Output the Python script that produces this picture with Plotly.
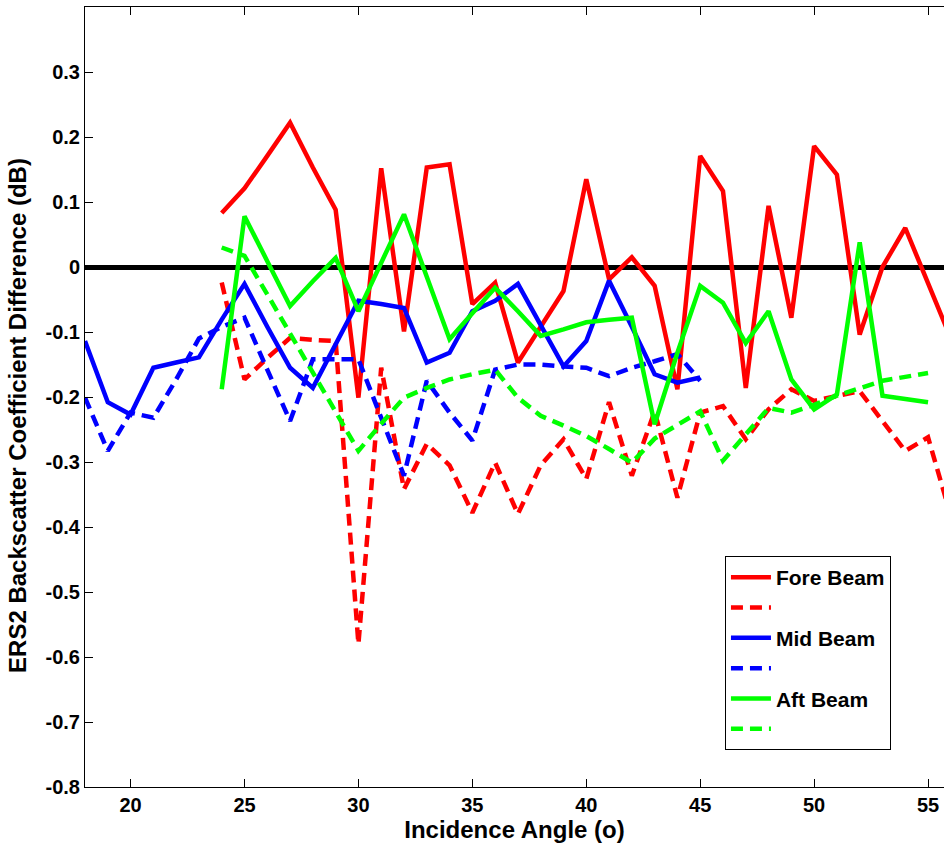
import plotly.graph_objects as go

# Incidence angles
x_fore = list(range(24, 57))
x_mid = list(range(18, 46))
x_aft = list(range(24, 56))

fore_solid = [0.083, 0.121, 0.171, 0.222, 0.153, 0.088, -0.201, 0.152, -0.099, 0.153, 0.158,
              -0.057, -0.024, -0.147, -0.092, -0.037, 0.135, -0.019, 0.015, -0.029, -0.188,
              0.171, 0.117, -0.186, 0.094, -0.078, 0.186, 0.142, -0.104, 0.0, 0.060, -0.025, -0.11]
fore_dashed = [-0.024, -0.173, -0.14, -0.109, -0.112, -0.114, -0.58, -0.155, -0.342, -0.272, -0.305,
               -0.378, -0.301, -0.38, -0.305, -0.265, -0.326, -0.208, -0.321, -0.222, -0.355,
               -0.224, -0.214, -0.265, -0.219, -0.188, -0.206, -0.198, -0.191, -0.237, -0.283, -0.262, -0.383]
mid_solid = [-0.114, -0.208, -0.227, -0.155, -0.147, -0.139, -0.081, -0.026, -0.092, -0.155, -0.186,
             -0.119, -0.052, -0.057, -0.063, -0.147, -0.132, -0.068, -0.052, -0.026, -0.089,
             -0.153, -0.114, -0.021, -0.092, -0.165, -0.178, -0.17]
mid_dashed = [-0.201, -0.283, -0.224, -0.232, -0.173, -0.11, -0.092, -0.078, -0.158, -0.237, -0.142,
              -0.142, -0.142, -0.232, -0.321, -0.175, -0.224, -0.267, -0.158, -0.15, -0.15,
              -0.153, -0.155, -0.168, -0.155, -0.145, -0.134, -0.175]
aft_solid = [-0.188, 0.078, 0.009, -0.06, -0.022, 0.014, -0.068, 0.006, 0.081, -0.015, -0.111,
             -0.071, -0.032, -0.068, -0.106, -0.096, -0.085, -0.081, -0.078, -0.242, -0.132,
             -0.029, -0.055, -0.117, -0.068, -0.173, -0.219, -0.196, 0.038, -0.198, -0.203, -0.208]
aft_dashed = [0.03, 0.017, -0.042, -0.102, -0.162, -0.222, -0.283, -0.241, -0.201, -0.186, -0.173,
              -0.165, -0.158, -0.201, -0.229, -0.244, -0.26, -0.28, -0.301, -0.264, -0.244,
              -0.222, -0.298, -0.257, -0.217, -0.224, -0.212, -0.198, -0.186, -0.175, -0.169, -0.163]

x_ticks = [20, 25, 30, 35, 40, 45, 50, 55]
y_ticks = [-0.8, -0.7, -0.6, -0.5, -0.4, -0.3, -0.2, -0.1, 0, 0.1, 0.2, 0.3]
y_tick_text = ["-0.8", "-0.7", "-0.6", "-0.5", "-0.4", "-0.3", "-0.2", "-0.1", "0", "0.1", "0.2", "0.3"]

LW = 4.5
DASH = "12px,7px"
series = [
    ("Fore Beam", x_fore, fore_solid, "#FF0000", "solid"),
    (" ", x_fore, fore_dashed, "#FF0000", DASH),
    ("Mid Beam", x_mid, mid_solid, "#0000FF", "solid"),
    ("  ", x_mid, mid_dashed, "#0000FF", DASH),
    ("Aft Beam", x_aft, aft_solid, "#00FF00", "solid"),
    ("   ", x_aft, aft_dashed, "#00FF00", DASH),
]

fig = go.Figure()
for name, xs, ys, col, dash in series:
    fig.add_trace(go.Scatter(x=xs, y=ys, mode="lines", name=name,
                             line=dict(color=col, width=LW, dash=dash)))

FONT = "Liberation Sans, Arial, sans-serif"
fig.update_layout(
    width=944, height=849,
    margin=dict(l=85, r=0, t=7, b=62),
    paper_bgcolor="white", plot_bgcolor="white",
    font=dict(family=FONT, size=20, color="black", weight="bold"),
    showlegend=True,
    legend=dict(x=0.745, y=0.296, xanchor="left", yanchor="top",
                bordercolor="black", borderwidth=1, bgcolor="white",
                font=dict(family=FONT, size=21, color="black", weight="bold"),
                tracegroupgap=0, itemwidth=40),
    xaxis=dict(range=[18, 55.7], tickvals=x_ticks, ticks="inside", ticklen=8,
               tickcolor="black", showline=True, linecolor="black", linewidth=1,
               mirror="ticks", showgrid=False, zeroline=False,
               title=dict(text="Incidence Angle (o)", font=dict(size=24, weight="bold"), standoff=2),
               tickfont=dict(size=20, weight="bold")),
    yaxis=dict(range=[-0.8, 0.4], tickvals=y_ticks, ticktext=y_tick_text, ticks="inside",
               ticklen=8, tickcolor="black", showline=True, linecolor="black", linewidth=1,
               showgrid=False, zeroline=True, zerolinecolor="black", zerolinewidth=5,
               tickfont=dict(size=20, weight="bold")),
    annotations=[dict(text="ERS2 Backscatter Coefficient Difference (dB)", textangle=-90,
                      xref="paper", yref="paper", x=-0.078, y=0.477,
                      xanchor="center", yanchor="middle", showarrow=False,
                      font=dict(family=FONT, size=24, color="black", weight="bold"))],
)

fig.write_html("out.html")
